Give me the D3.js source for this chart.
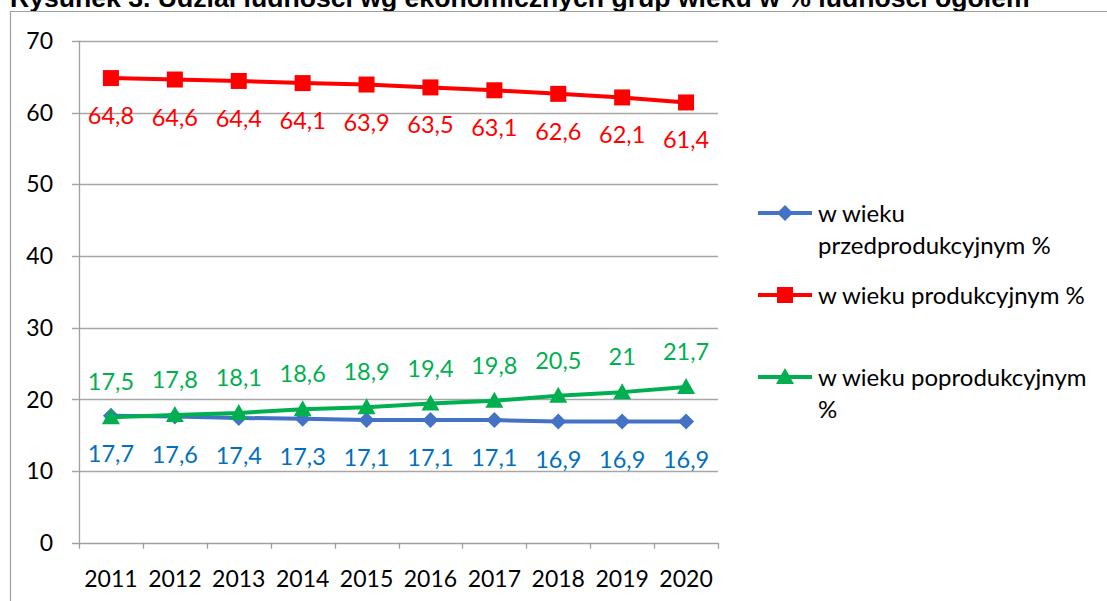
<!DOCTYPE html>
<html><head><meta charset="utf-8">
<script src="https://cdn.jsdelivr.net/npm/d3@7"></script>
<style>html,body{margin:0;padding:0;background:#fff;}svg{display:block;}</style>
</head><body>
<svg id="c" width="1107" height="601"></svg>
<script>
const years = ["2011","2012","2013","2014","2015","2016","2017","2018","2019","2020"];
const przed = [17.7,17.6,17.4,17.3,17.1,17.1,17.1,16.9,16.9,16.9];
const prod = [64.8,64.6,64.4,64.1,63.9,63.5,63.1,62.6,62.1,61.4];
const poprod = [17.5,17.8,18.1,18.6,18.9,19.4,19.8,20.5,21,21.7];
const yTicks = [0,10,20,30,40,50,60,70];
const seriesNames = [["w wieku","przedprodukcyjnym %"],["w wieku produkcyjnym %"],["w wieku poprodukcyjnym","%"]];
const titleText = "Rysunek 3. Udział ludności wg ekonomicznych grup wieku w % ludności ogółem";

const series = [
  {vals: przed, color:"#4472C4", label:"#0070C0", marker:"diamond", pos:"below", name: seriesNames[0]},
  {vals: prod, color:"#FF0000", label:"#FF0000", marker:"square", pos:"below", name: seriesNames[1]},
  {vals: poprod, color:"#00B050", label:"#00B050", marker:"triangle", pos:"above", name: seriesNames[2]}
];

const svg = d3.select("#c");
const F = "Lato, 'Open Sans', sans-serif";
const pL = 79, pR = 718, pT = 40.8, pB = 542.7;
const x = d3.scaleBand().domain(years).range([pL, pR]);
const y = d3.scaleLinear().domain([0,70]).range([pB, pT]);

// title
svg.append("text").attr("x", 10).attr("y", 7).attr("font-family","'Liberation Sans', Arial, sans-serif")
  .attr("font-weight","bold").attr("font-size", 26.6).attr("fill","#000").text(titleText);

// frame
svg.append("path").attr("d", `M10.5,601 V11.5 H1107`).attr("fill","none").attr("stroke","#a0a0a0").attr("stroke-width",1.2);

// gridlines
const grid = svg.append("g");
yTicks.forEach(t => {
  grid.append("line").attr("x1", pL-7).attr("x2", pR).attr("y1", Math.round(y(t))+0.5).attr("y2", Math.round(y(t))+0.5)
    .attr("stroke", t===0 ? "#a0a0a0" : "#a6a6a6").attr("stroke-width", 1.3);
  grid.append("text").attr("x", 53).attr("y", y(t)).attr("dy","0.36em").attr("text-anchor","end")
    .attr("font-family",F).attr("font-size",23).attr("fill","#000").text(t);
});
// y axis line
svg.append("line").attr("x1", pL+0.5).attr("x2", pL+0.5).attr("y1", pT).attr("y2", pB+6)
  .attr("stroke","#a0a0a0").attr("stroke-width",1.3);
// x ticks at band boundaries
years.forEach((yr,i) => {
  const bx = Math.round(x(yr) + x.bandwidth()) + 0.5;
  svg.append("line").attr("x1", bx).attr("x2", bx).attr("y1", pB).attr("y2", pB+6)
    .attr("stroke","#a0a0a0").attr("stroke-width",1.3);
  svg.append("text").attr("x", x(yr)+x.bandwidth()/2).attr("y", 587).attr("text-anchor","middle")
    .attr("font-family",F).attr("font-size",23).attr("fill","#000").text(yr);
});

function marker(g, type, cx, cy, color) {
  if (type==="diamond") {
    g.append("path").attr("d", `M${cx},${cy-8} L${cx+8},${cy} L${cx},${cy+8} L${cx-8},${cy} Z`).attr("fill", color);
  } else if (type==="square") {
    g.append("rect").attr("x", cx-8).attr("y", cy-8).attr("width",16).attr("height",16).attr("fill", color);
  } else {
    g.append("path").attr("d", `M${cx},${cy-9} L${cx+9},${cy+7} L${cx-9},${cy+7} Z`).attr("fill", color);
  }
}
const fmt = v => String(v).replace(".", ",");
const cx = yr => x(yr) + x.bandwidth()/2;

series.forEach(s => {
  const g = svg.append("g");
  const line = d3.line().x((d,i)=>cx(years[i])).y(d=>y(d));
  g.append("path").attr("d", line(s.vals)).attr("fill","none").attr("stroke", s.color).attr("stroke-width",4).attr("stroke-linejoin","round");
  s.vals.forEach((v,i) => marker(g, s.marker, cx(years[i]), y(v), s.color));
});
series.forEach(s => {
  s.vals.forEach((v,i) => {
    svg.append("text").attr("x", cx(years[i])).attr("y", s.pos==="below" ? y(v)+46 : y(v)-27)
      .attr("text-anchor","middle").attr("font-family",F).attr("font-size",23.5).attr("fill", s.label).text(fmt(v));
  });
});

// legend
const legY = [213, 295, 377];
series.forEach((s,k) => {
  const g = svg.append("g");
  const ly = legY[k];
  g.append("line").attr("x1",758).attr("x2",812).attr("y1",ly).attr("y2",ly).attr("stroke", s.color).attr("stroke-width",4);
  marker(g, s.marker, 785, ly, s.color);
  s.name.forEach((t,j) => {
    g.append("text").attr("x", 818).attr("y", ly + j*32).attr("dy","0.36em")
      .attr("font-family",F).attr("font-size",24).attr("fill","#000").text(t);
  });
});
</script>
</body></html>
